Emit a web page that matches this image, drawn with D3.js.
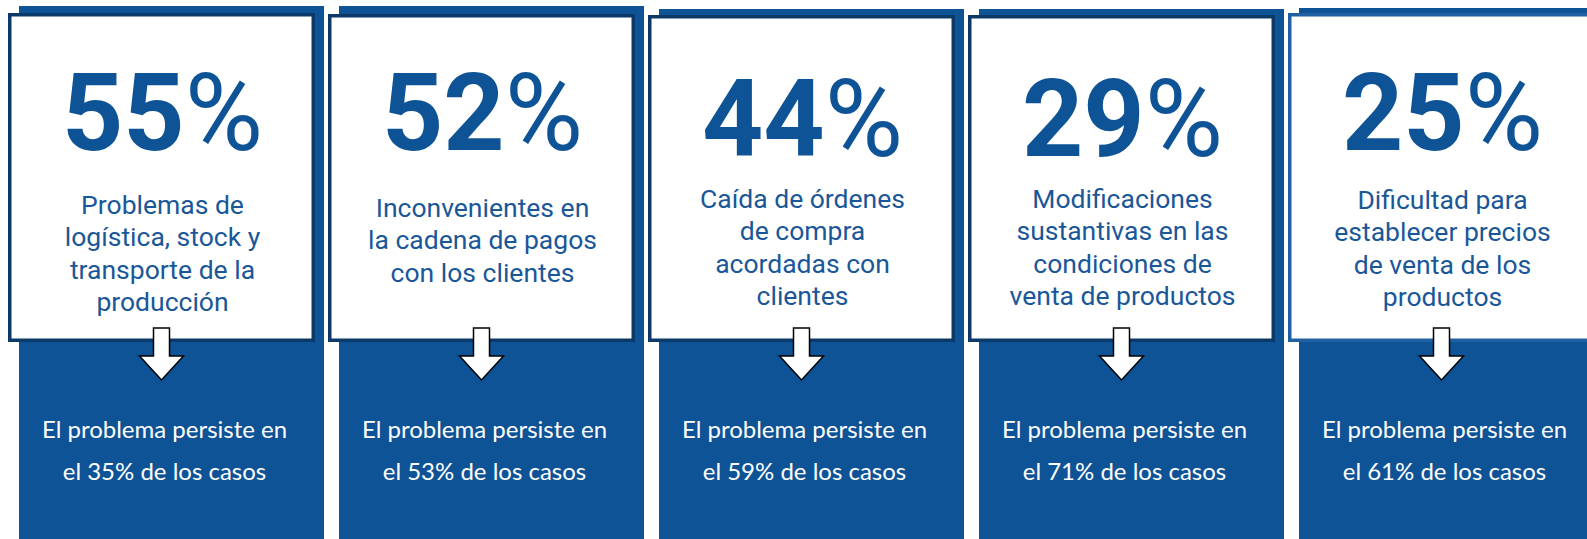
<!DOCTYPE html>
<html>
<head>
<meta charset="utf-8">
<script src="https://cdn.jsdelivr.net/npm/d3@7"></script>
<style>
  body { margin: 0; background: #fff; }
</style>
</head>
<body>
<script>
const values = [55, 52, 44, 29, 25];
const labels = [
  ['Problemas de', 'logística, stock y', 'transporte de la', 'producción'],
  ['Inconvenientes en', 'la cadena de pagos', 'con los clientes'],
  ['Caída de órdenes', 'de compra', 'acordadas con', 'clientes'],
  ['Modificaciones', 'sustantivas en las', 'condiciones de', 'venta de productos'],
  ['Dificultad para', 'establecer precios', 'de venta de los', 'productos']
];
const persists = [35, 53, 59, 71, 61];

// small per-column layout nudges seen in the original
const cardTop = [13, 14, 15, 15, 13];
const blueTop = [6, 6, 9, 9, 8];
const numY = [150, 150, 156, 156, 150];
const descY = [214, 217, 208, 208, 209];

const svgWidth = 1587;
const svgHeight = 539;
const cardBottom = 342;
const blue = '#0e5396';
const navy = '#0b3a69';

const svg = d3.select('body').append('svg')
  .attr('width', svgWidth)
  .attr('height', svgHeight);

const x = d3.scaleBand()
  .domain(d3.range(values.length))
  .range([8, 8 + 320 * values.length]);

const cardW = 307;

const col = svg.selectAll('.col')
  .data(values)
  .enter()
  .append('g')
  .attr('class', 'col');

// blue background panel
col.append('rect')
  .attr('x', (d, i) => x(i) + 11)
  .attr('y', (d, i) => blueTop[i])
  .attr('width', 305)
  .attr('height', (d, i) => svgHeight - blueTop[i])
  .attr('fill', blue);

// white card
col.append('rect')
  .attr('x', (d, i) => x(i) + 1.75)
  .attr('y', (d, i) => cardTop[i] + 1.75)
  .attr('width', cardW - 3.5)
  .attr('height', (d, i) => cardBottom - cardTop[i] - 3.5)
  .attr('fill', '#fff')
  .attr('stroke', (d, i) => i === 4 ? '#1f60a3' : navy)
  .attr('stroke-width', 3.5);

// big percentage (digits bold, % sign lighter as in the original)
const num = col.append('text')
  .attr('x', (d, i) => x(i) + cardW / 2 + 1)
  .attr('y', (d, i) => numY[i])
  .attr('text-anchor', 'middle')
  .attr('font-family', 'Roboto')
  .attr('font-size', 107)
  .attr('fill', blue);
num.append('tspan')
  .attr('font-weight', 'bold')
  .text(d => d);
num.append('tspan')
  .attr('font-weight', 'normal')
  .text('%');

// description
col.each(function(d, i) {
  const t = d3.select(this).append('text')
    .attr('text-anchor', 'middle')
    .attr('font-family', 'Roboto')
    .attr('font-size', 26.5)
    .attr('fill', '#1a5799');
  labels[i].forEach((line, j) => {
    t.append('tspan')
      .attr('x', x(i) + cardW / 2 + 1)
      .attr('y', descY[i] + j * 32.3)
      .text(line);
  });
});

// down arrow
col.append('path')
  .attr('d', (d, i) => {
    const cx = x(i) + cardW / 2;
    const top = cardBottom - 14;
    return d3.line()([
      [cx - 8, top], [cx + 8, top], [cx + 8, top + 28], [cx + 22, top + 28],
      [cx, top + 52], [cx - 22, top + 28], [cx - 8, top + 28]
    ]) + 'Z';
  })
  .attr('fill', '#fff')
  .attr('stroke', '#000')
  .attr('stroke-width', 1.5)
  .attr('stroke-linejoin', 'miter');

// persistence text
col.each(function(d, i) {
  const t = d3.select(this).append('text')
    .attr('text-anchor', 'middle')
    .attr('font-family', 'Lato')
    .attr('font-size', 24)
    .attr('fill', '#fff');
  ['El problema persiste en', `el ${persists[i]}% de los casos`].forEach((line, j) => {
    t.append('tspan')
      .attr('x', x(i) + cardW / 2 + 3)
      .attr('y', 438 + j * 42)
      .text(line);
  });
});
</script>
</body>
</html>
